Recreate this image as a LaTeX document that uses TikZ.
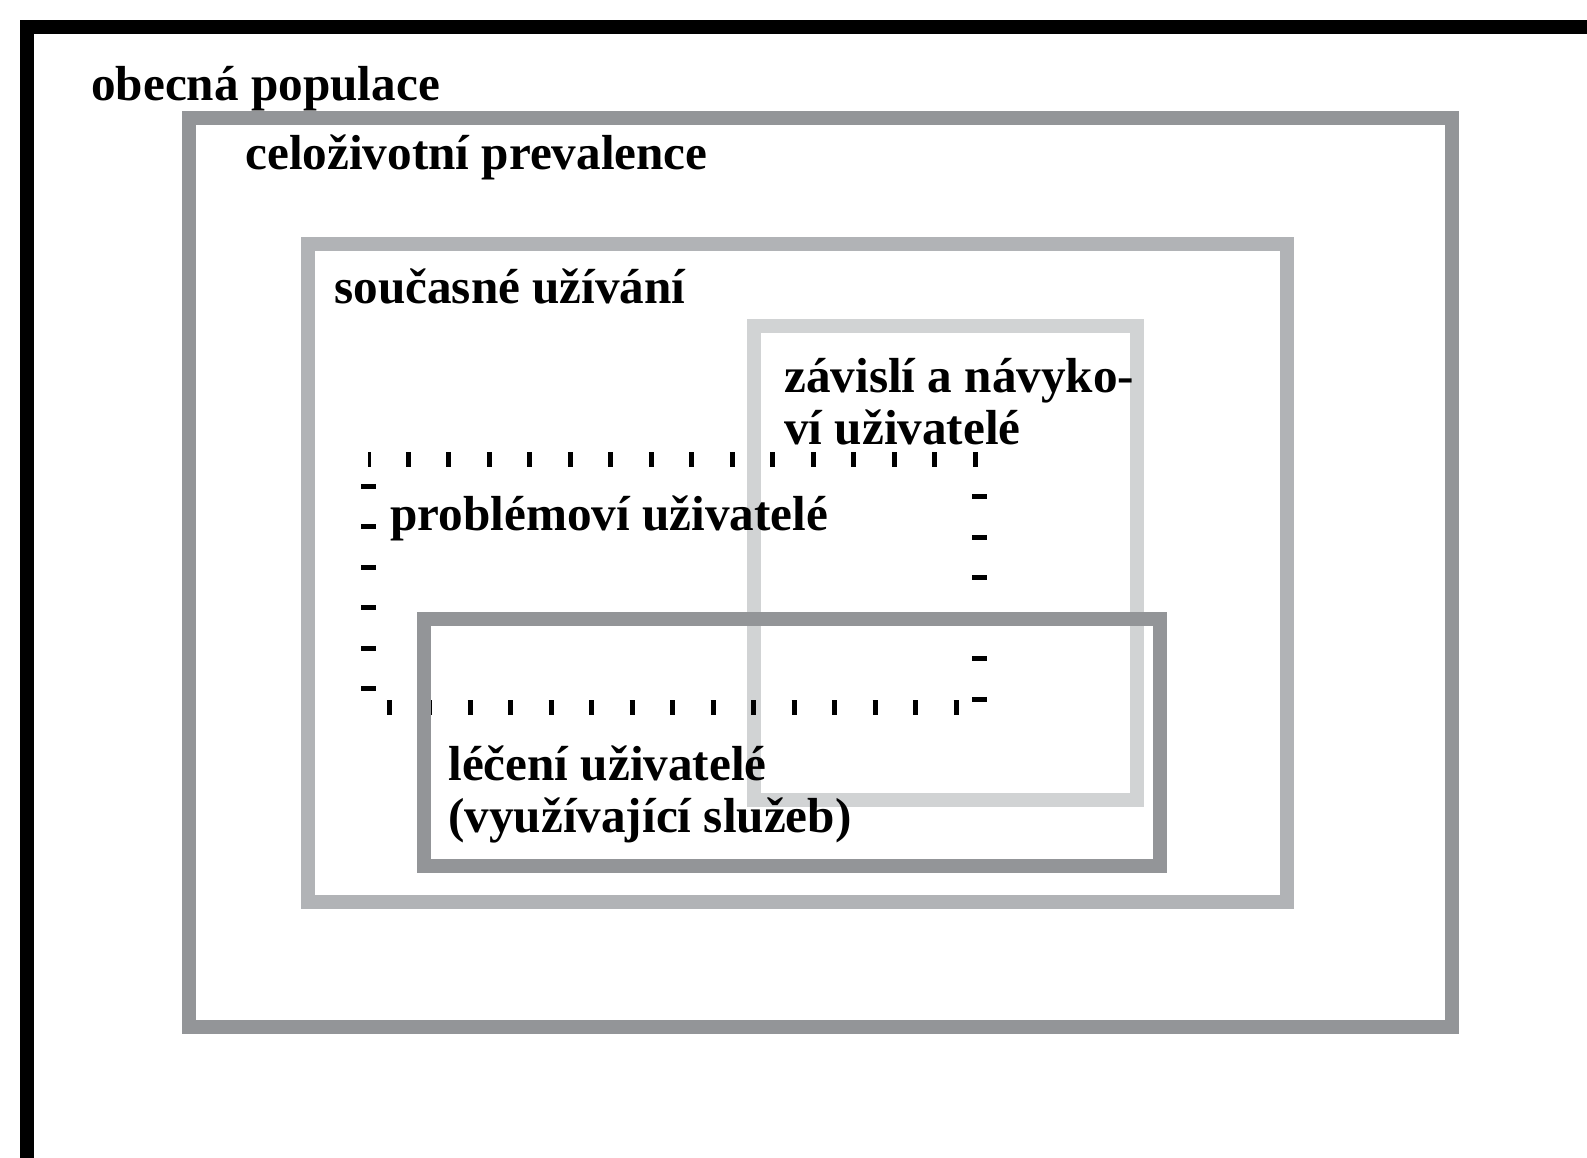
\documentclass[tikz,border=0pt]{standalone}
\usepackage{fontspec}
\setmainfont{Liberation Serif}
\usepackage{tikz}
\usepackage{xcolor}
\usetikzlibrary{positioning}

\definecolor{boxdark}{HTML}{939598}
\definecolor{boxmid}{HTML}{B1B3B6}
\definecolor{boxlight}{HTML}{D1D3D4}

\begin{document}
\begin{tikzpicture}[x=0.02cm, y=-0.02cm,
    frame/.style={line width=0.29cm, line join=miter},
    label/.style={anchor=base west, inner sep=0pt, align=left,
        font=\bfseries\fontsize{28}{30}\selectfont},
    ticked/.style={line width=0.3cm, dash pattern=on 0.1cm off 0.71cm}]
                        \useasboundingbox (0, 0) rectangle (1587, 1158);
                        \clip (0, 0) rectangle (1587, 1158);

                        \draw[frame, black] (27, 27) rectangle (1700, 1300);
                        \draw[frame, boxdark] (189, 118) rectangle (1452, 1027);
                        \draw[frame, boxmid] (308, 244) rectangle (1287, 902);
                        \draw[frame, boxlight] (754, 326) rectangle (1137, 800);
                        % problem users: ticked outline in two runs from the top left corner
                        \coordinate (pbtl) at (368, 460);
                        \coordinate (pbtr) at (979, 460);
                        \coordinate (pbbr) at (979, 708);
                        \coordinate (pbbl) at (368, 708);
                        \draw[ticked, black, dash phase=0.05cm] (pbtl) -- (pbtr) -- (pbbr);
                        \draw[ticked, black, dash phase=0.334cm] (pbtl) -- (pbbl) -- (pbbr);
                        \draw[frame, boxdark] (424, 619) rectangle (1160, 866);

                        \node[label] (obecna) at (91, 101) {obecná populace};
                        \node[label] (celozivotni) at (245, 170) {celoživotní prevalence};
                        \node[label] (soucasne) at (334, 304) {současné užívání};
                        \node[label] (zavisli) at (784, 445) {závislí a návyko-\\ví uživatelé};
                        \node[label] (problemovi) at (390, 531) {problémoví uživatelé};
                        \node[label] (leceni) at (448, 833) {léčení uživatelé\\(využívající služeb)};
                    \end{tikzpicture}
\end{document}
